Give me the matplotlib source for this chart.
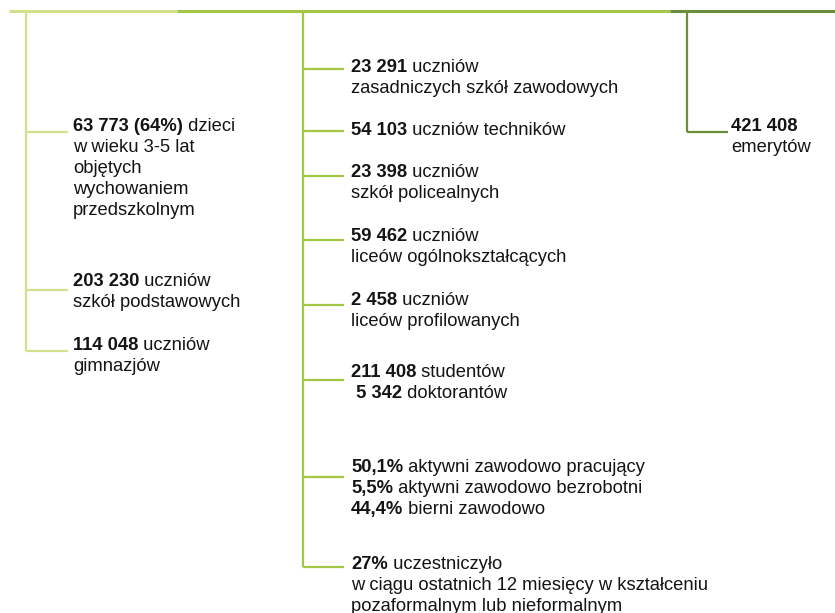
import matplotlib
matplotlib.use("Agg")
import matplotlib.pyplot as plt

# ---------------- data (texts) ----------------
# each entry: list of lines; each line: list of (text, bold)
left_items = [
    [[("63 773 (64%)", True), (" dzieci", False)],
     [("w wieku 3-5 lat", False)],
     [("objętych", False)],
     [("wychowaniem", False)],
     [("przedszkolnym", False)]],
    [[("203 230", True), (" uczniów", False)],
     [("szkół podstawowych", False)]],
    [[("114 048", True), (" uczniów", False)],
     [("gimnazjów", False)]],
]
middle_items = [
    [[("23 291", True), (" uczniów", False)],
     [("zasadniczych szkół zawodowych", False)]],
    [[("54 103", True), (" uczniów techników", False)]],
    [[("23 398", True), (" uczniów", False)],
     [("szkół policealnych", False)]],
    [[("59 462", True), (" uczniów", False)],
     [("liceów ogólnokształcących", False)]],
    [[("2 458", True), (" uczniów", False)],
     [("liceów profilowanych", False)]],
    [[("211 408", True), (" studentów", False)],
     [(" 5 342", True), (" doktorantów", False)]],
    [[("50,1%", True), (" aktywni zawodowo pracujący", False)],
     [("5,5%", True), (" aktywni zawodowo bezrobotni", False)],
     [("44,4%", True), (" bierni zawodowo", False)]],
    [[("27%", True), (" uczestniczyło", False)],
     [("w ciągu ostatnich 12 miesięcy w kształceniu", False)],
     [("pozaformalnym lub nieformalnym", False)]],
]
right_items = [
    [[("421 408", True)],
     [("emerytów", False)]],
]

# ---------------- layout (pixels) ----------------
W, H = 835, 613
C_LIGHT = "#d3e18c"
C_MID = "#a3c644"
C_DARK = "#6a8d3a"
TXT = "#141414"
FS = 13.25
LINE = 21

left_branch_y = [132, 290, 351]
left_base_y = [131, 286, 350]
mid_branch_y = [69, 131, 176, 240, 305, 380, 477, 567]
mid_base_y = [72, 135, 177, 241, 305, 377, 472, 569]
right_branch_y = [132]
right_base_y = [131]

fig = plt.figure(figsize=(W / 100, H / 100), dpi=100)
ax = fig.add_axes([0, 0, 1, 1])
ax.set_xlim(0, W)
ax.set_ylim(H, 0)
ax.axis("off")
plt.rcParams["font.family"] = ["Liberation Sans", "DejaVu Sans"]

renderer = fig.canvas.get_renderer()

# top bar
ax.plot([9, 177], [11, 11], color=C_LIGHT, lw=2.2, solid_capstyle="butt")
ax.plot([177, 670], [11, 11], color=C_MID, lw=2.2, solid_capstyle="butt")
ax.plot([670, W], [11, 11], color=C_DARK, lw=2.2, solid_capstyle="butt")


def column(x_vert, x_end, x_text, branch_y, base_y, items, color):
    ax.plot([x_vert, x_vert], [11, max(branch_y)], color=color, lw=1.6,
            solid_capstyle="butt")
    for by, ty, lines in zip(branch_y, base_y, items):
        ax.plot([x_vert, x_end], [by, by], color=color, lw=1.6,
                solid_capstyle="butt")
        for i, segs in enumerate(lines):
            x = x_text
            y = ty + i * LINE
            for s, bold in segs:
                t = ax.text(x, y, s, fontsize=FS, color=TXT, va="baseline",
                            ha="left", fontweight="bold" if bold else "normal")
                ext = t.get_window_extent(renderer=renderer)
                x += ext.width


column(26, 68, 73, left_branch_y, left_base_y, left_items, C_LIGHT)
column(303, 344, 351, mid_branch_y, mid_base_y, middle_items, C_MID)
column(687, 728, 731, right_branch_y, right_base_y, right_items, C_DARK)

fig.savefig("out.png", dpi=100)
